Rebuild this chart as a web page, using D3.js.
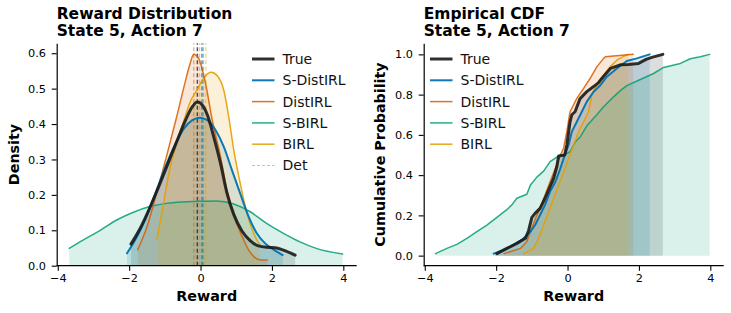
<!DOCTYPE html>
<html><head><meta charset="utf-8">
<script src="https://cdn.jsdelivr.net/npm/d3@7"></script>
<style>
body{margin:0;background:#fff;}
svg{display:block;font-family:"DejaVu Sans",sans-serif;}
</style></head><body>
<svg id="chart" width="731" height="313"></svg>
<script>
// ---------- data ----------
const seriesNames  = ["True", "S-DistIRL", "DistIRL", "S-BIRL", "BIRL"];
const seriesColors = ["#1a1a1a", "#0072B2", "#D55E00", "#009E73", "#E69F00"];
const detName = "Det";
const detColor = "#CC79A7";

// KDE density curves [reward, density]
const kdeTrue = [[-1.95,0.061],[-1.72,0.10],[-1.49,0.148],[-1.21,0.214],[-0.93,0.284],[-0.65,0.355],[-0.42,0.411],[-0.23,0.449],[-0.09,0.462],[0.05,0.454],[0.19,0.426],[0.37,0.364],[0.56,0.289],[0.74,0.205],[0.93,0.145],[1.16,0.098],[1.39,0.071],[1.62,0.056],[1.86,0.052],[2.09,0.051],[2.32,0.044],[2.65,0.030]];
const kdeSDistIRL = [[-2.06,0.035],[-1.81,0.077],[-1.58,0.124],[-1.30,0.195],[-1.02,0.27],[-0.74,0.336],[-0.46,0.388],[-0.23,0.411],[-0.02,0.418],[0.19,0.411],[0.42,0.383],[0.65,0.336],[0.88,0.27],[1.11,0.204],[1.35,0.138],[1.58,0.091],[1.81,0.063],[2.04,0.046],[2.30,0.030]];
const kdeDistIRL = [[-1.76,0.045],[-1.5,0.11],[-1.23,0.205],[-0.95,0.31],[-0.67,0.42],[-0.44,0.515],[-0.3,0.568],[-0.19,0.597],[-0.05,0.585],[0.14,0.515],[0.33,0.41],[0.56,0.308],[0.74,0.214],[0.9,0.155],[1.07,0.105],[1.22,0.07],[1.35,0.044],[1.5,0.025],[1.65,0.017],[1.87,0.016]];
const kdeSBIRL = [[-3.68,0.049],[-3.28,0.073],[-2.81,0.10],[-2.35,0.129],[-1.88,0.151],[-1.42,0.167],[-0.95,0.176],[-0.49,0.18],[-0.02,0.182],[0.45,0.183],[0.91,0.175],[1.38,0.153],[1.84,0.12],[2.31,0.092],[2.77,0.068],[3.24,0.049],[3.98,0.033]];
const kdeBIRL = [[-1.22,0.075],[-1.1,0.14],[-0.97,0.215],[-0.85,0.28],[-0.65,0.35],[-0.45,0.415],[-0.28,0.465],[-0.09,0.498],[0.09,0.53],[0.3,0.546],[0.48,0.535],[0.65,0.496],[0.79,0.42],[0.93,0.327],[1.11,0.233],[1.3,0.148],[1.49,0.091],[1.67,0.058]];

// mean reward markers (vertical dashed lines)
const meanValues = [-0.09, 0.04, -0.19, 0.08, 0.15];
const detValue = -0.03;

// empirical CDF knots [reward, cumulative probability]
const cdfTrue = [[-1.98,0.01],[-1.70,0.036],[-1.42,0.061],[-1.18,0.086],[-1.09,0.125],[-1.00,0.19],[-0.91,0.21],[-0.77,0.235],[-0.63,0.285],[-0.49,0.343],[-0.39,0.384],[-0.30,0.442],[-0.25,0.495],[-0.08,0.50],[-0.02,0.55],[0.07,0.665],[0.12,0.70],[0.21,0.715],[0.35,0.78],[0.54,0.815],[0.73,0.84],[0.87,0.86],[0.96,0.88],[1.2,0.93],[1.48,0.948],[1.71,0.95],[1.99,0.955],[2.2,0.975],[2.36,0.985],[2.67,1.0]];
const cdfSDistIRL = [[-2.07,0.01],[-1.79,0.028],[-1.51,0.053],[-1.28,0.078],[-1.04,0.119],[-0.91,0.152],[-0.77,0.202],[-0.63,0.252],[-0.49,0.318],[-0.34,0.367],[-0.20,0.434],[-0.11,0.483],[0.03,0.55],[0.12,0.616],[0.26,0.665],[0.40,0.715],[0.54,0.765],[0.73,0.814],[0.92,0.847],[1.10,0.889],[1.38,0.93],[1.66,0.967],[1.94,0.98],[2.30,1.0]];
const cdfDistIRL = [[-1.78,0.01],[-1.32,0.036],[-1.14,0.07],[-1.04,0.119],[-0.90,0.185],[-0.77,0.235],[-0.63,0.301],[-0.49,0.367],[-0.34,0.434],[-0.20,0.50],[-0.11,0.533],[-0.02,0.616],[0.07,0.715],[0.26,0.781],[0.45,0.831],[0.63,0.88],[0.82,0.938],[1.01,0.98],[1.06,0.988],[1.84,1.0]];
const cdfSBIRL = [[-3.70,0.01],[-3.38,0.036],[-3.10,0.056],[-2.82,0.086],[-2.54,0.119],[-2.26,0.152],[-1.98,0.19],[-1.71,0.227],[-1.56,0.252],[-1.42,0.285],[-1.14,0.305],[-1.04,0.351],[-0.86,0.39],[-0.67,0.42],[-0.49,0.467],[-0.30,0.49],[-0.11,0.50],[0.07,0.516],[0.22,0.566],[0.36,0.591],[0.54,0.645],[0.82,0.70],[1.01,0.74],[1.29,0.789],[1.48,0.82],[1.66,0.845],[2.04,0.875],[2.41,0.905],[2.69,0.935],[3.16,0.955],[3.44,0.978],[3.72,0.988],[3.98,1.0]];
const cdfBIRL = [[-1.23,0.01],[-0.95,0.036],[-0.81,0.086],[-0.67,0.152],[-0.53,0.218],[-0.39,0.285],[-0.25,0.351],[-0.11,0.417],[0.03,0.483],[0.17,0.55],[0.31,0.616],[0.45,0.665],[0.59,0.715],[0.68,0.798],[0.82,0.847],[1.01,0.897],[1.19,0.938],[1.38,0.971],[1.57,0.99],[1.70,1.0]];

const xTicks = [-4, -2, 0, 2, 4];
const densityTicks = [0.0, 0.1, 0.2, 0.3, 0.4, 0.5, 0.6];
const cdfTicks = [0.0, 0.2, 0.4, 0.6, 0.8, 1.0];

const titleLeft = ["Reward Distribution", "State 5, Action 7"];
const titleRight = ["Empirical CDF", "State 5, Action 7"];

// ---------- drawing ----------
const kdes = [kdeTrue, kdeSDistIRL, kdeDistIRL, kdeSBIRL, kdeBIRL];
const cdfs = [cdfTrue, cdfSDistIRL, cdfDistIRL, cdfSBIRL, cdfBIRL];
const lineWidths = [3, 2, 1.5, 1.5, 1.5];
const lineAlpha = [0.9, 0.95, 0.85, 0.85, 0.9];
const fillAlpha = 0.15;

const svg = d3.select("#chart");
const TICK_FS = 11.3, LABEL_FS = 14.3, TITLE_FS = 15.5, LEG_FS = 14;

function panel(opt) {
  const g = svg.append("g");
  const x = d3.scaleLinear().domain([-4.03, 4.375]).range([opt.x0, opt.x0 + 300]);
  const y = d3.scaleLinear().domain(opt.yDomain).range([265.7, 43.3]);

  // fills
  opt.data.forEach((d, i) => {
    const area = d3.area().x(p => x(p[0])).y0(y(0)).y1(p => y(p[1])).curve(opt.curve);
    g.append("path").attr("d", area(d)).attr("fill", seriesColors[i]).attr("fill-opacity", fillAlpha).attr("stroke", "none");
  });
  if (opt.extra) opt.extra(g, x, y);
  // lines (True on top)
  [3, 4, 2, 1, 0].forEach(i => {
    const line = d3.line().x(p => x(p[0])).y(p => y(p[1])).curve(opt.curve);
    g.append("path").attr("d", line(opt.data[i])).attr("fill", "none")
      .attr("stroke", seriesColors[i]).attr("stroke-width", lineWidths[i])
      .attr("stroke-opacity", lineAlpha[i]).attr("stroke-linejoin", "round").attr("stroke-linecap", "round");
  });

  // axes
  const ax = g.append("g").attr("transform", `translate(0,265.7)`)
    .call(d3.axisBottom(x).tickValues(xTicks).tickSize(5).tickSizeOuter(0).tickPadding(3).tickFormat(d3.format("d")));
  const ay = g.append("g").attr("transform", `translate(${opt.x0},0)`)
    .call(d3.axisLeft(y).tickValues(opt.yTicks).tickSize(5).tickSizeOuter(0).tickPadding(5.7).tickFormat(d3.format(".1f")));
  [ax, ay].forEach(a => {
    a.select(".domain").attr("stroke", "#000").attr("stroke-width", 1.2);
    a.selectAll(".tick line").attr("stroke", "#000").attr("stroke-width", 1.1);
    a.selectAll(".tick text").attr("font-size", TICK_FS).attr("fill", "#000").attr("font-family", "DejaVu Sans");
  });
  // x spine across full width
  ax.select(".domain").attr("d", `M${opt.x0},0H${opt.x0 + 300}`);

  // titles
  opt.title.forEach((t, k) => {
    g.append("text").attr("x", opt.x0).attr("y", 19 + k * 17.3).attr("font-size", TITLE_FS)
      .attr("font-weight", "bold").attr("fill", "#000").text(t);
  });
  g.append("text").attr("x", opt.x0 + 150).attr("y", 301).attr("text-anchor", "middle")
    .attr("font-size", LABEL_FS).attr("font-weight", "bold").text("Reward");
  g.append("text").attr("transform", `translate(${opt.ylx},154.5) rotate(-90)`).attr("text-anchor", "middle")
    .attr("font-size", LABEL_FS).attr("font-weight", "bold").text(opt.ylabel);

  // legend
  const items = seriesNames.map((n, i) => ({ n, c: seriesColors[i], w: lineWidths[i], dash: null, a: lineAlpha[i] }));
  if (opt.withDet) items.push({ n: detName, c: detColor, w: 1.1, dash: "3,2", a: 0.6 });
  items.forEach((it, k) => {
    const yy = 59 + k * 21.3;
    g.append("line").attr("x1", opt.legX).attr("x2", opt.legX + 22.5).attr("y1", yy).attr("y2", yy)
      .attr("stroke", it.c).attr("stroke-width", it.w).attr("stroke-opacity", it.a)
      .attr("stroke-dasharray", it.dash);
    g.append("text").attr("x", opt.legX + 30.5).attr("y", yy).attr("dy", "0.35em")
      .attr("font-size", LEG_FS).attr("fill", "#111").text(it.n);
  });
}

panel({
  x0: 56.7, yDomain: [0, 0.628], yTicks: densityTicks, data: kdes, curve: d3.curveMonotoneX,
  title: titleLeft, ylabel: "Density", ylx: 18.5, legX: 252, withDet: true,
  extra: (g, x, y) => {
    const lines = meanValues.map((m, i) => ({ m, c: seriesColors[i], a: (i === 0 || i === 1) ? 0.75 : 0.45 }));
    lines.push({ m: detValue, c: detColor, a: 0.5 });
    lines.forEach(l => {
      g.append("line").attr("x1", x(l.m)).attr("x2", x(l.m)).attr("y1", y(0)).attr("y2", 43.3)
        .attr("stroke", l.c).attr("stroke-opacity", l.a).attr("stroke-width", 1.4).attr("stroke-dasharray", "4,2.5");
    });
  }
});

panel({
  x0: 423.7, yDomain: [-0.05, 1.055], yTicks: cdfTicks, data: cdfs, curve: d3.curveLinear,
  title: titleRight, ylabel: "Cumulative Probability", ylx: 385, legX: 430, withDet: false
});
</script>
</body></html>
